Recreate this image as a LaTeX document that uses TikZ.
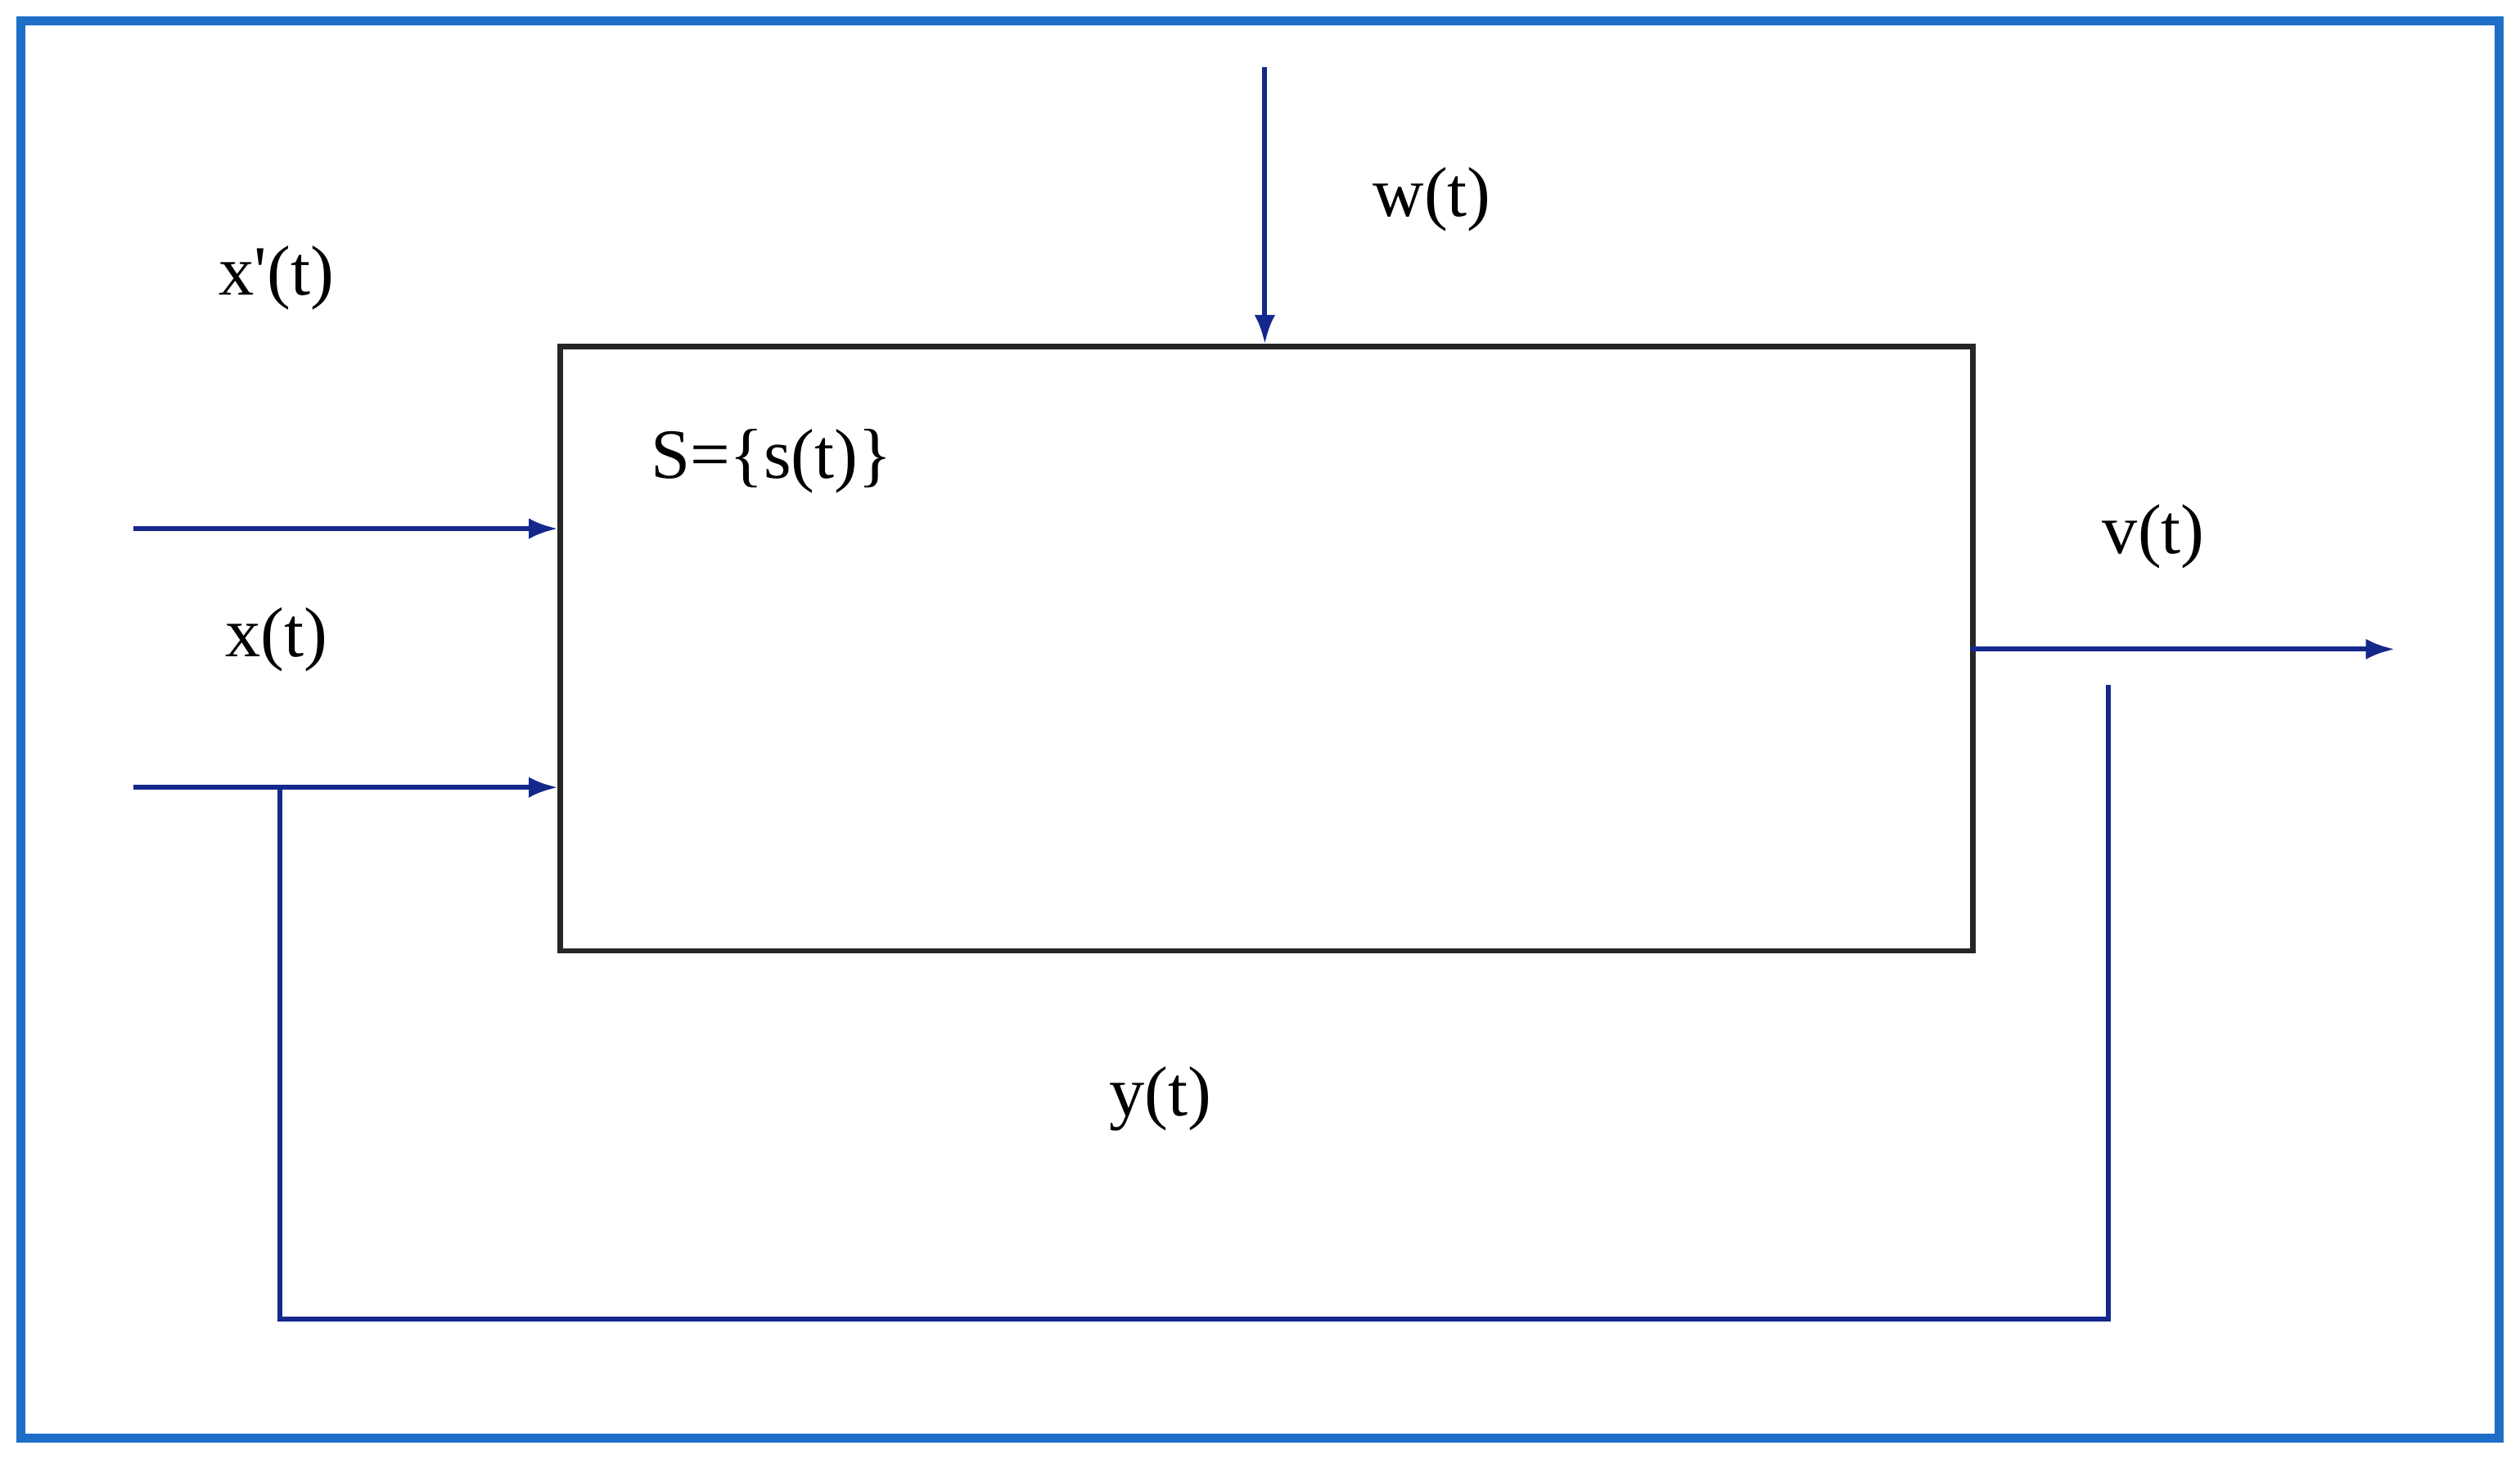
\documentclass[tikz,border=0pt]{standalone}
\usepackage{fontspec}
\setmainfont{Liberation Serif}
\usetikzlibrary{arrows.meta}
\definecolor{framec}{RGB}{30,110,200}
\definecolor{sigc}{RGB}{20,40,140}
\begin{document}
\begin{tikzpicture}[x=1pt,y=-1pt,
  sig/.style={draw=sigc,line width=3pt},
  arr/.style={sig,-{Latex[length=18pt,width=13pt]}},
  lbl/.style={font=\fontsize{44}{50}\selectfont}]
\useasboundingbox (0,0) rectangle (1568,908);
\draw[draw=framec,line width=6pt] (13,13) rectangle (1555,895);
\node[draw=black!85,line width=3.5pt,minimum width=879pt,minimum height=376pt,anchor=north west,inner sep=0] (box) at (347,214) {};
\coordinate (w0) at (787,42);
\coordinate (w1) at (787,214);
\draw[arr] (w0) -- (w1);
\coordinate (a0) at (83,329);
\coordinate (a1) at (347,329);
\draw[arr] (a0) -- (a1);
\coordinate (b0) at (83,490);
\coordinate (b1) at (347,490);
\draw[arr] (b0) -- (b1);
\coordinate (v0) at (1226,404);
\coordinate (v1) at (1490,404);
\draw[arr] (v0) -- (v1);
\coordinate (f0) at (1312,426);
\coordinate (f1) at (174,490);
\draw[sig] (f0) -- (1312,821) -- (174,821) -- (f1);
\node[lbl] (lxp) at (172,173) {x\textquotesingle(t)};
\node[lbl] (lx) at (172,398) {x(t)};
\node[lbl] (lw) at (891,124) {w(t)};
\node[lbl] (ls) at (480,287) {S=\{s(t)\}};
\node[lbl] (lv) at (1340,334) {v(t)};
\node[lbl] (ly) at (722,684) {y(t)};
\end{tikzpicture}
\end{document}
